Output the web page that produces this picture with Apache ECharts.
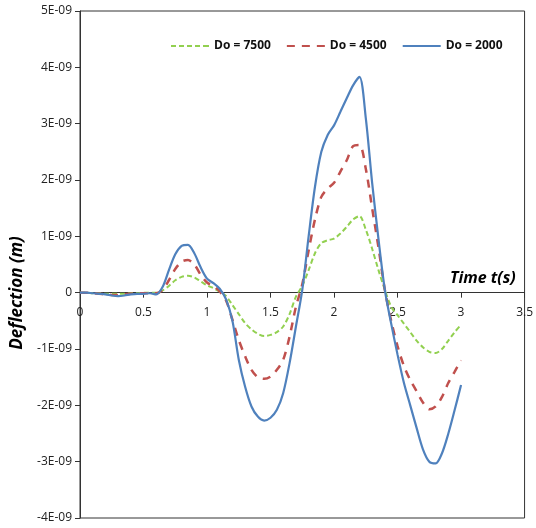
<!DOCTYPE html>
<html>
<head>
<meta charset="utf-8">
<script src="https://cdn.jsdelivr.net/npm/echarts@6/dist/echarts.min.js"></script>
<style>
html,body{margin:0;padding:0;background:#fff;}
#chart{width:536px;height:528px;}
</style>
</head>
<body>
<div id="chart"></div>
<script>
// Time (s)
const time = [0,0.05,0.1,0.15,0.2,0.25,0.3,0.35,0.4,0.45,0.5,0.55,0.6,0.65,0.7,0.75,0.8,0.85,0.9,0.95,1.0,1.05,1.1,1.15,1.2,1.25,1.3,1.35,1.4,1.45,1.5,1.55,1.6,1.65,1.7,1.75,1.8,1.85,1.9,1.95,2.0,2.05,2.1,2.15,2.2,2.25,2.3,2.35,2.4,2.45,2.5,2.55,2.6,2.65,2.7,2.75,2.8,2.85,2.9,2.95,3.0];
// Deflection in units of 1E-09 m
const do7500 = [0,0,-0.01,-0.01,-0.02,-0.02,-0.02,-0.02,-0.01,-0.01,0,0,0,0.04,0.12,0.22,0.28,0.3,0.27,0.2,0.13,0.08,0.02,-0.06,-0.22,-0.38,-0.54,-0.65,-0.73,-0.77,-0.75,-0.7,-0.6,-0.38,-0.07,0.12,0.4,0.7,0.88,0.93,0.96,1.05,1.17,1.3,1.36,1.12,0.78,0.4,0.05,-0.25,-0.4,-0.55,-0.7,-0.85,-0.97,-1.05,-1.07,-1.0,-0.85,-0.7,-0.57];
const do4500 = [0,0,-0.01,-0.02,-0.03,-0.04,-0.04,-0.03,-0.02,-0.01,-0.01,-0.01,-0.01,0.05,0.22,0.42,0.55,0.58,0.5,0.32,0.18,0.12,0.02,-0.14,-0.48,-0.84,-1.13,-1.37,-1.5,-1.53,-1.49,-1.37,-1.19,-0.78,-0.25,0.15,0.75,1.3,1.7,1.85,1.95,2.15,2.35,2.6,2.62,2.2,1.5,0.8,0.05,-0.5,-0.95,-1.3,-1.55,-1.75,-1.95,-2.07,-2.02,-1.85,-1.6,-1.4,-1.2];
const do2000 = [0,0,-0.01,-0.02,-0.03,-0.05,-0.06,-0.05,-0.03,-0.02,-0.02,-0.01,-0.03,0.1,0.4,0.68,0.83,0.85,0.7,0.45,0.25,0.17,0.07,-0.12,-0.5,-1.19,-1.67,-2.02,-2.2,-2.27,-2.22,-2.08,-1.78,-1.25,-0.6,0.05,1.0,1.88,2.5,2.8,2.97,3.21,3.45,3.68,3.83,3.1,1.95,0.95,0.05,-0.55,-1.1,-1.6,-2.0,-2.4,-2.78,-3.0,-3.03,-2.85,-2.5,-2.08,-1.64];
const seriesNames = ['Do = 7500','Do = 4500','Do = 2000'];
const xTicks = [0,0.5,1,1.5,2,2.5,3,3.5];
const yTicks = [-4,-3,-2,-1,0,1,2,3,4,5];
const xTitle = 'Time t(s)';
const yTitle = 'Deflection (m)';

const pair = arr => time.map((t,i)=>[t,arr[i]]);
const font = '"Open Sans", "Liberation Sans", sans-serif';

const W = 536, H = 528, gTop = 11, gBottom = 10, gLeft = 80, gRight = 8;
const gH = H - gTop - gBottom;
const yMin = yTicks[0], yMax = yTicks[yTicks.length-1];
const zeroOffset = -gH * (0 - yMin) / (yMax - yMin);

const icons = [
  'path://M0,0h5v2h-5zM8,0h5v2h-5zM16,0h5v2h-5zM24,0h5v2h-5zM32,0h6v2h-6z',
  'path://M0,0h8v2h-8zM15,0h8v2h-8zM30,0h8v2h-8z',
  'path://M0,0h38v2h-38z'
];

const chart = echarts.init(document.getElementById('chart'), null, {renderer:'canvas'});
chart.setOption({
  animation:false,
  backgroundColor:'#fff',
  grid:{left:gLeft, right:gRight, top:gTop, bottom:gBottom, show:true, borderColor:'#333', borderWidth:1, backgroundColor:'transparent'},
  legend:{
    left:166, top:35, itemWidth:38, itemHeight:2.5, itemGap:16,
    textStyle:{fontFamily:font, fontWeight:'bold', fontSize:12, color:'#111'},
    data:seriesNames.map((n,i)=>({name:n, icon:icons[i]}))
  },
  xAxis:{
    type:'value', min:xTicks[0], max:xTicks[xTicks.length-1], interval:0.5,
    position:'bottom', offset:zeroOffset,
    axisLine:{onZero:false, lineStyle:{color:'#333', width:1}},
    axisTick:{show:true, length:5, inside:false, lineStyle:{color:'#333'}},
    axisLabel:{fontFamily:font, fontSize:12, color:'#222', margin:14, showMaxLabel:true,
      formatter:v=>String(v)},
    splitLine:{show:false}
  },
  yAxis:{
    type:'value', min:yMin, max:yMax, interval:1,
    axisLine:{show:true, onZero:false, lineStyle:{color:'#333', width:1}},
    axisTick:{show:true, length:5, lineStyle:{color:'#333'}},
    axisLabel:{fontFamily:font, fontSize:12, color:'#222', margin:8,
      formatter:v=>{const n=Math.round(v); return n===0?'0':n+'E-09';}},
    splitLine:{show:false}
  },
  graphic:[
    {type:'text', left:450, top:270, style:{text:xTitle, font:'italic bold 16px '+font, fill:'#000'}},
    {type:'text', x:17, y:293, rotation:Math.PI/2, style:{text:yTitle, font:'italic bold 17px '+font, fill:'#000', textAlign:'center', textVerticalAlign:'middle'}}
  ],
  series:[
    {name:seriesNames[0], type:'line', data:pair(do7500), smooth:0.3, showSymbol:false, symbol:'none',
      lineStyle:{color:'#92D050', width:2, type:[5,3]}, itemStyle:{color:'#92D050'}},
    {name:seriesNames[1], type:'line', data:pair(do4500), smooth:0.3, showSymbol:false, symbol:'none',
      lineStyle:{color:'#C0504D', width:2.5, type:[8,7]}, itemStyle:{color:'#C0504D'}},
    {name:seriesNames[2], type:'line', data:pair(do2000), smooth:0.3, showSymbol:false, symbol:'none',
      lineStyle:{color:'#4F81BD', width:2.2, type:'solid'}, itemStyle:{color:'#4F81BD'}}
  ]
});
</script>
</body>
</html>
